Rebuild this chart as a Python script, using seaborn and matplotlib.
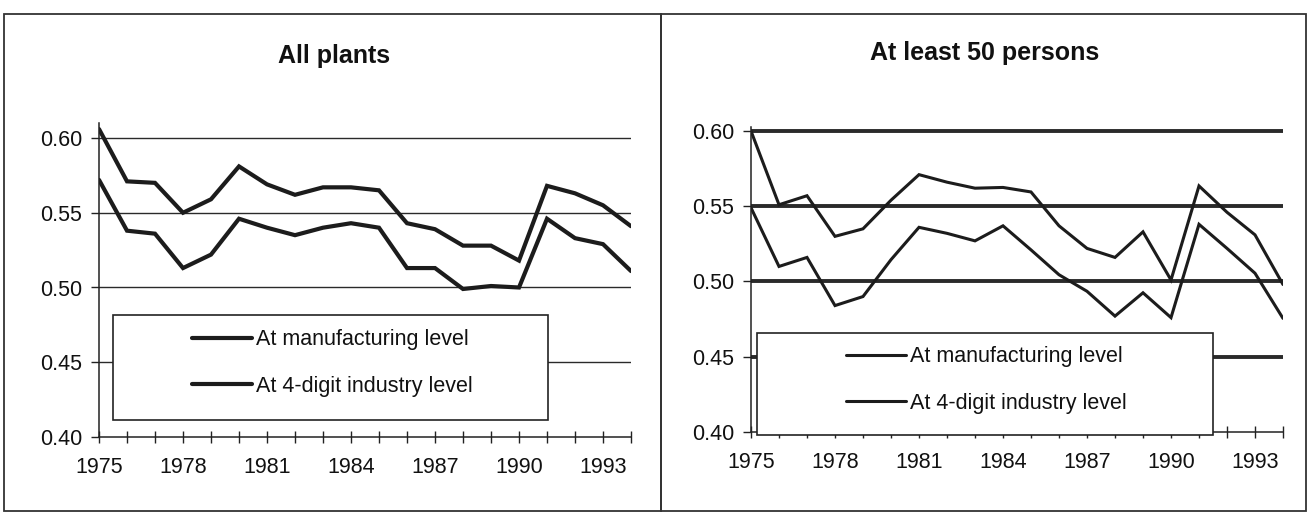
import matplotlib
matplotlib.use("Agg")
import matplotlib.pyplot as plt
from matplotlib.patches import Rectangle
import numpy as np
import pandas as pd
import seaborn as sns

# ---------------- data ----------------
years = list(range(1975, 1995))
all_manuf = [0.606, 0.571, 0.570, 0.550, 0.559, 0.581, 0.569, 0.562, 0.567, 0.567,
             0.565, 0.543, 0.539, 0.528, 0.528, 0.518, 0.568, 0.563, 0.555, 0.541]
all_digit = [0.572, 0.538, 0.536, 0.513, 0.522, 0.546, 0.540, 0.535, 0.540, 0.543,
             0.540, 0.513, 0.513, 0.499, 0.501, 0.500, 0.546, 0.533, 0.529, 0.511]
big_manuf = [0.600, 0.551, 0.557, 0.530, 0.535, 0.554, 0.571, 0.566, 0.562, 0.5625,
             0.5595, 0.537, 0.522, 0.516, 0.533, 0.501, 0.5635, 0.546, 0.531, 0.498]
big_digit = [0.549, 0.510, 0.516, 0.484, 0.490, 0.5145, 0.536, 0.532, 0.527, 0.537,
             0.521, 0.5045, 0.4935, 0.477, 0.4925, 0.476, 0.538, 0.522, 0.5055, 0.4755]
series_labels = ["At manufacturing level", "At 4-digit industry level"]
titles = ["All plants", "At least 50 persons"]
yticks = [0.40, 0.45, 0.50, 0.55, 0.60]
xtick_labels = [str(y) if (y - 1975) % 3 == 0 else "" for y in years]

# ---------------- style ----------------
sns.set_theme(style="white")
plt.rcParams["font.family"] = ["Liberation Sans", "DejaVu Sans"]

W, H = 1310, 515
fig = plt.figure(figsize=(W / 100, H / 100), dpi=100)
fig.patch.set_facecolor("white")


def fx(px):
    return px / W


def fy(py):
    return 1 - py / H


INK = "#1c1c1c"

# y0px: pixel row of 0.40, y60px: pixel row of 0.60
panels = [
    dict(manuf=all_manuf, digit=all_digit, title=titles[0],
         x0px=99, x1px=631, y0px=437, y60px=138, ytop=0.61,
         grid_lw=1.0, line_lw=3.0, title_pos=(334, 56),
         legbox=(113, 315, 548, 420), leg_anchor=(192, 363)),
    dict(manuf=big_manuf, digit=big_digit, title=titles[1],
         x0px=751, x1px=1283, y0px=432, y60px=131, ytop=0.6025,
         grid_lw=2.8, line_lw=2.2, title_pos=(985, 53),
         legbox=(757, 333, 1213, 435), leg_anchor=(846, 380)),
]

for p in panels:
    ppu = (p["y0px"] - p["y60px"]) / (yticks[-1] - yticks[0])
    top_px = p["y0px"] - (p["ytop"] - yticks[0]) * ppu
    ax = fig.add_axes([fx(p["x0px"]), fy(p["y0px"]),
                       (p["x1px"] - p["x0px"]) / W, (p["y0px"] - top_px) / H])
    df = pd.DataFrame({
        "year": years * 2,
        "value": p["manuf"] + p["digit"],
        "series": [series_labels[0]] * len(years) + [series_labels[1]] * len(years),
    })
    sns.lineplot(data=df, x="year", y="value", hue="series",
                 palette=[INK, INK], linewidth=p["line_lw"], legend=False, ax=ax)
    for ln in ax.get_lines():
        ln.set_solid_joinstyle("miter")

    ax.set_xlim(years[0], years[-1])
    ax.set_ylim(yticks[0], p["ytop"])
    ax.set_xlabel("")
    ax.set_ylabel("")
    ax.set_xticks(years)
    ax.set_xticklabels(xtick_labels)
    ax.set_yticks(yticks)
    ax.set_yticklabels([f"{v:.2f}" for v in yticks])
    ax.tick_params(axis="x", bottom=True, direction="inout", length=9, width=1.0,
                   color="#222222", labelsize=15.5, labelcolor="#111111", pad=10)
    ax.tick_params(axis="y", left=True, direction="out", length=6, width=1.0,
                   color="#222222", labelsize=15.5, labelcolor="#111111", pad=6)

    ax.grid(axis="y", color="#2a2a2a", linewidth=p["grid_lw"])
    ax.grid(axis="x", visible=False)
    ax.yaxis.get_gridlines()[0].set_visible(False)
    ax.set_axisbelow(True)

    for side in ("top", "right"):
        ax.spines[side].set_visible(False)
    for side in ("left", "bottom"):
        ax.spines[side].set_color("#222222")
        ax.spines[side].set_linewidth(1.1)
    ax.set_facecolor("none")

    # legend box
    bx0, by0, bx1, by1 = p["legbox"]
    box = Rectangle((fx(bx0), fy(by1)), (bx1 - bx0) / W, (by1 - by0) / H,
                    transform=fig.transFigure, facecolor="white",
                    edgecolor="#222222", linewidth=1.2, zorder=4, clip_on=False)
    ax.add_patch(box)
    handles = ax.get_lines()[:2]
    leg = ax.legend(handles, series_labels, loc="center left",
                    bbox_to_anchor=(fx(p["leg_anchor"][0]), fy(p["leg_anchor"][1])),
                    bbox_transform=fig.transFigure, frameon=False,
                    borderpad=0, borderaxespad=0, handlelength=2.8,
                    handletextpad=0.15, labelspacing=1.2, fontsize=15.5)
    leg.set_zorder(5)
    for t in leg.get_texts():
        t.set_color("#111111")

    fig.text(fx(p["title_pos"][0]), fy(p["title_pos"][1]), p["title"],
             ha="center", va="center", fontsize=18, fontweight="bold",
             color="#111111")

# panel frames
for (l, r) in [(4, 661), (661, 1306)]:
    fig.add_artist(Rectangle((fx(l), fy(511)), (r - l) / W, (511 - 14) / H,
                             transform=fig.transFigure, fill=False,
                             edgecolor="#333333", linewidth=1.3))

fig.savefig("out.png", dpi=100)
